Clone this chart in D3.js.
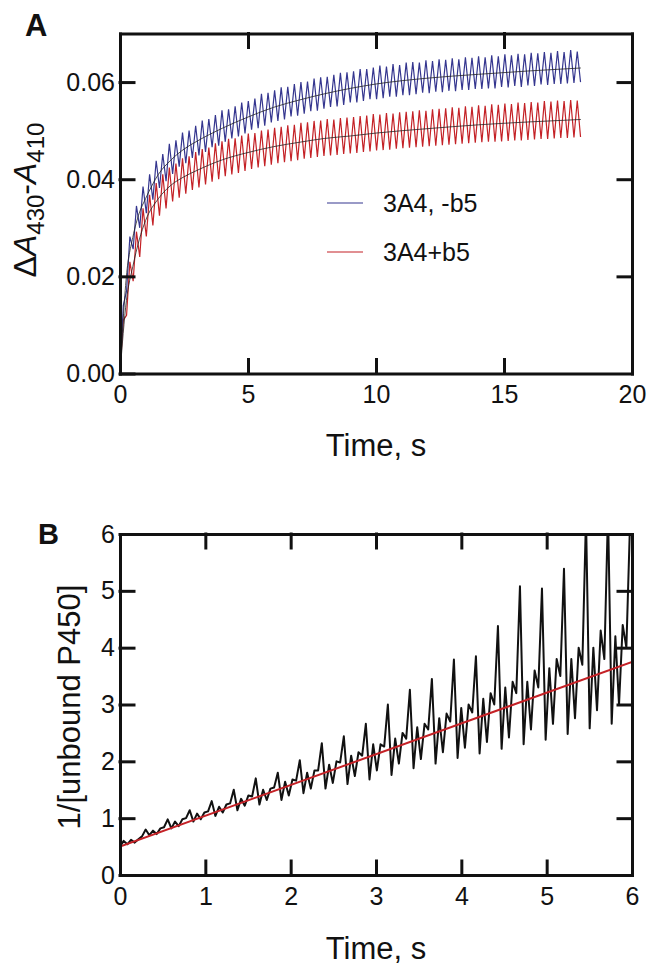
<!DOCTYPE html>
<html>
<head>
<meta charset="utf-8">
<script src="https://cdn.jsdelivr.net/npm/d3@7"></script>
<style>
  body { margin: 0; background: #fff; }
  text { font-family: "Liberation Sans", Arial, sans-serif; }
</style>
</head>
<body>
<svg id="fig" width="648" height="965"></svg>
<script>
// ---- panel A data (absorbance traces, sampled every stepA seconds) ----
var stepA = 0.1285;
var blueTrace = [
  0.0000, 0.0140, 0.0170, 0.0282, 0.0256, 0.0345, 0.0300, 0.0385, 0.0330, 0.0410,
  0.0358, 0.0438, 0.0382, 0.0452, 0.0396, 0.0473, 0.0411, 0.0480, 0.0426, 0.0496,
  0.0433, 0.0500, 0.0444, 0.0510, 0.0449, 0.0521, 0.0456, 0.0524, 0.0466, 0.0532,
  0.0469, 0.0542, 0.0477, 0.0544, 0.0484, 0.0550, 0.0488, 0.0558, 0.0494, 0.0561,
  0.0502, 0.0566, 0.0505, 0.0576, 0.0510, 0.0578, 0.0517, 0.0583, 0.0520, 0.0589,
  0.0523, 0.0590, 0.0529, 0.0596, 0.0531, 0.0600, 0.0535, 0.0601, 0.0540, 0.0607,
  0.0541, 0.0610, 0.0545, 0.0611, 0.0549, 0.0615, 0.0550, 0.0619, 0.0553, 0.0620,
  0.0558, 0.0622, 0.0558, 0.0627, 0.0561, 0.0627, 0.0565, 0.0630, 0.0565, 0.0634,
  0.0567, 0.0632, 0.0570, 0.0637, 0.0570, 0.0635, 0.0573, 0.0640, 0.0573, 0.0641,
  0.0575, 0.0640, 0.0578, 0.0645, 0.0577, 0.0643, 0.0580, 0.0647, 0.0579, 0.0646,
  0.0582, 0.0649, 0.0581, 0.0647, 0.0584, 0.0651, 0.0584, 0.0650, 0.0586, 0.0653,
  0.0586, 0.0651, 0.0587, 0.0655, 0.0587, 0.0653, 0.0590, 0.0657, 0.0589, 0.0655,
  0.0592, 0.0658, 0.0590, 0.0657, 0.0593, 0.0660, 0.0592, 0.0659, 0.0595, 0.0662,
  0.0594, 0.0660, 0.0596, 0.0664, 0.0596, 0.0662, 0.0597, 0.0666, 0.0598, 0.0663,
  0.0600
];
var redTrace = [
  0.0000, 0.0110, 0.0120, 0.0230, 0.0190, 0.0292, 0.0240, 0.0340, 0.0282, 0.0368,
  0.0305, 0.0392, 0.0325, 0.0410, 0.0340, 0.0424, 0.0354, 0.0432, 0.0362, 0.0443,
  0.0370, 0.0447, 0.0378, 0.0456, 0.0383, 0.0462, 0.0389, 0.0465, 0.0395, 0.0474,
  0.0400, 0.0478, 0.0406, 0.0483, 0.0410, 0.0484, 0.0413, 0.0490, 0.0417, 0.0494,
  0.0421, 0.0495, 0.0424, 0.0500, 0.0427, 0.0502, 0.0430, 0.0506, 0.0433, 0.0508,
  0.0435, 0.0511, 0.0437, 0.0512, 0.0439, 0.0516, 0.0442, 0.0517, 0.0444, 0.0520,
  0.0446, 0.0521, 0.0448, 0.0524, 0.0449, 0.0523, 0.0450, 0.0526, 0.0452, 0.0527,
  0.0453, 0.0528, 0.0454, 0.0530, 0.0456, 0.0531, 0.0457, 0.0534, 0.0459, 0.0533,
  0.0460, 0.0536, 0.0461, 0.0535, 0.0463, 0.0538, 0.0464, 0.0539, 0.0465, 0.0540,
  0.0466, 0.0542, 0.0467, 0.0541, 0.0468, 0.0544, 0.0469, 0.0545, 0.0470, 0.0546,
  0.0471, 0.0548, 0.0472, 0.0547, 0.0473, 0.0550, 0.0474, 0.0549, 0.0475, 0.0552,
  0.0476, 0.0551, 0.0477, 0.0554, 0.0477, 0.0553, 0.0478, 0.0556, 0.0479, 0.0555,
  0.0480, 0.0558, 0.0480, 0.0557, 0.0481, 0.0559, 0.0482, 0.0558, 0.0483, 0.0561,
  0.0483, 0.0560, 0.0484, 0.0562, 0.0485, 0.0561, 0.0485, 0.0563, 0.0486, 0.0562,
  0.0487
];
// fitted curves
var fitTime = [0, 0.25, 0.5, 0.75, 1, 1.5, 2, 2.5, 3, 4, 5, 6, 7, 8, 9, 10, 12, 14, 16, 18];
var fitBlue = [0, 0.020, 0.028, 0.033, 0.036, 0.041, 0.0440, 0.0462, 0.0478, 0.0505,
               0.0528, 0.0548, 0.0563, 0.0576, 0.0587, 0.0596, 0.0608, 0.0616, 0.0623, 0.0629];
var fitRed  = [0, 0.015, 0.022, 0.0275, 0.0315, 0.036, 0.0388, 0.0405, 0.0418, 0.0440,
               0.0455, 0.0467, 0.0476, 0.0484, 0.0489, 0.0495, 0.0504, 0.0512, 0.0518, 0.0523];
var legendNames = ["3A4, -b5", "3A4+b5"];
var xTicksA = [0, 5, 10, 15, 20];
var yTicksA = [0, 0.02, 0.04, 0.06];

// ---- panel B data ----
var stepB = 0.043;
var invTrace = [
  0.50, 0.60, 0.54, 0.62, 0.57, 0.63,
  0.68, 0.80, 0.70, 0.78, 0.72, 0.82,
  0.84, 0.98, 0.82, 0.94, 0.86, 0.98,
  1.00, 1.14, 0.94, 1.08, 0.98, 1.10,
  1.12, 1.30, 1.04, 1.20, 1.10, 1.24,
  1.26, 1.50, 1.14, 1.34, 1.22, 1.40,
  1.38, 1.70, 1.24, 1.50, 1.32, 1.52,
  1.54, 1.80, 1.32, 1.64, 1.40, 1.68,
  1.66, 2.02, 1.44, 1.80, 1.52, 1.84,
  1.84, 2.32, 1.52, 1.94, 1.62, 2.00,
  1.98, 2.44, 1.60, 2.10, 1.74, 2.16,
  2.10, 2.66, 1.68, 2.30, 1.84, 2.30,
  2.26, 3.00, 1.76, 2.40, 1.96, 2.50,
  2.40, 3.26, 1.88, 2.60, 2.04, 2.66,
  2.56, 3.45, 1.96, 2.76, 2.16, 2.84,
  2.70, 3.79, 2.06, 2.94, 2.24, 3.00,
  2.86, 3.85, 2.14, 3.10, 2.34, 3.20,
  3.00, 4.38, 2.22, 3.30, 2.42, 3.40,
  3.20, 5.08, 2.30, 3.40, 2.56, 3.60,
  3.30, 5.04, 2.38, 3.64, 2.66, 3.80,
  3.50, 5.39, 2.48, 3.80, 2.76, 4.00,
  3.70, 6.30, 2.58, 4.00, 2.90, 4.30,
  3.80, 6.40, 2.66, 4.20, 3.00, 4.40,
  4.00, 6.20
];
var fitLineT = [0, 6];
var fitLineV = [0.5, 3.75];
var ticksB = [0, 1, 2, 3, 4, 5, 6];

var blueCol = "#35368f", redCol = "#c42126";

var svg = d3.select("#fig");

// draws a closed frame with inward ticks on all 4 sides
function frame(g, x, y, xt, yt, xfmt, yfmt) {
  var tk = -14;
  g.append("g").attr("transform", "translate(0," + y.range()[0] + ")")
    .call(d3.axisBottom(x).tickValues(xt).tickSize(tk).tickSizeOuter(0).tickPadding(12).tickFormat(xfmt));
  g.append("g").attr("transform", "translate(" + x.range()[0] + ",0)")
    .call(d3.axisLeft(y).tickValues(yt).tickSize(tk).tickSizeOuter(0).tickPadding(5).tickFormat(yfmt));
  g.append("g").attr("transform", "translate(0," + y.range()[1] + ")")
    .call(d3.axisTop(x).tickValues(xt.slice(1, -1)).tickSize(tk).tickSizeOuter(0).tickFormat(""));
  g.append("g").attr("transform", "translate(" + x.range()[1] + ",0)")
    .call(d3.axisRight(y).tickValues(yt.slice(1)).tickSize(tk).tickSizeOuter(0).tickFormat(""));
  g.selectAll(".domain, .tick line")
    .attr("stroke", "#111").attr("stroke-width", 3).attr("stroke-linecap", "square");
  g.selectAll(".tick text").attr("font-size", 25).attr("fill", "#111")
    .attr("font-family", "Liberation Sans, Arial, sans-serif");
}

function clip(id, x, y) {
  svg.append("clipPath").attr("id", id).append("rect")
    .attr("x", x.range()[0]).attr("y", y.range()[1])
    .attr("width", x.range()[1] - x.range()[0]).attr("height", y.range()[0] - y.range()[1]);
}

// ================= panel A =================
var xA = d3.scaleLinear().domain([0, 20]).range([120, 632]);
var yA = d3.scaleLinear().domain([0, 0.07]).range([373.5, 33.5]);
clip("clipA", xA, yA);
var gA = svg.append("g");
var plotA = gA.append("g").attr("clip-path", "url(#clipA)");

var lineA = d3.line().x(function (d, i) { return xA(i * stepA); }).y(function (d) { return yA(d); });
plotA.append("path").datum(redTrace).attr("d", lineA)
  .attr("fill", "none").attr("stroke", redCol).attr("stroke-width", 1.2);
plotA.append("path").datum(blueTrace).attr("d", lineA)
  .attr("fill", "none").attr("stroke", blueCol).attr("stroke-width", 1.2);

var fitA = d3.line().curve(d3.curveMonotoneX)
  .x(function (d, i) { return xA(fitTime[i]); }).y(function (d) { return yA(d); });
[fitBlue, fitRed].forEach(function (f) {
  plotA.append("path").datum(f).attr("d", fitA)
    .attr("fill", "none").attr("stroke", "#222").attr("stroke-width", 0.8);
});

frame(gA, xA, yA, xTicksA, yTicksA, d3.format("d"), d3.format(".2f"));

// legend
[blueCol, redCol].forEach(function (c, i) {
  var ly = 203 + i * 49;
  gA.append("line").attr("x1", 327).attr("x2", 363).attr("y1", ly).attr("y2", ly)
    .attr("stroke", c).attr("stroke-width", 1.2);
  gA.append("text").attr("x", 383).attr("y", ly + 9).attr("font-size", 25)
    .attr("fill", "#111").text(legendNames[i]);
});

// axis titles
gA.append("text").attr("x", 376).attr("y", 456).attr("text-anchor", "middle")
  .attr("font-size", 31).attr("fill", "#111").text("Time, s");
var ytA = gA.append("text").attr("transform", "translate(36,200) rotate(-90)")
  .attr("text-anchor", "middle").attr("font-size", 32).attr("fill", "#111");
ytA.append("tspan").text("\u0394");
ytA.append("tspan").attr("font-style", "italic").text("A");
ytA.append("tspan").attr("font-size", 24).attr("dy", 8).text("430");
ytA.append("tspan").attr("dy", -8).text("-");
ytA.append("tspan").attr("font-style", "italic").text("A");
ytA.append("tspan").attr("font-size", 24).attr("dy", 8).text("410");

gA.append("text").attr("x", 25).attr("y", 36).attr("font-size", 31)
  .attr("font-weight", "bold").attr("fill", "#111").text("A");

// ================= panel B =================
var xB = d3.scaleLinear().domain([0, 6]).range([120, 632]);
var yB = d3.scaleLinear().domain([0, 6]).range([875, 534]);
clip("clipB", xB, yB);
var gB = svg.append("g");
var plotB = gB.append("g").attr("clip-path", "url(#clipB)");

plotB.append("path").datum(invTrace)
  .attr("d", d3.line().x(function (d, i) { return xB(i * stepB); }).y(function (d) { return yB(d); }))
  .attr("fill", "none").attr("stroke", "#111").attr("stroke-width", 2).attr("stroke-linejoin", "round");
plotB.append("path").datum(fitLineV)
  .attr("d", d3.line().x(function (d, i) { return xB(fitLineT[i]); }).y(function (d) { return yB(d); }))
  .attr("fill", "none").attr("stroke", redCol).attr("stroke-width", 2);

frame(gB, xB, yB, ticksB, ticksB, d3.format("d"), d3.format("d"));

gB.append("text").attr("x", 376).attr("y", 959).attr("text-anchor", "middle")
  .attr("font-size", 31).attr("fill", "#111").text("Time, s");
gB.append("text").attr("transform", "translate(80,707) rotate(-90)")
  .attr("text-anchor", "middle").attr("font-size", 31).attr("fill", "#111")
  .text("1/[unbound P450]");
gB.append("text").attr("x", 38).attr("y", 544).attr("font-size", 29)
  .attr("font-weight", "bold").attr("fill", "#111").text("B");
</script>
</body>
</html>
